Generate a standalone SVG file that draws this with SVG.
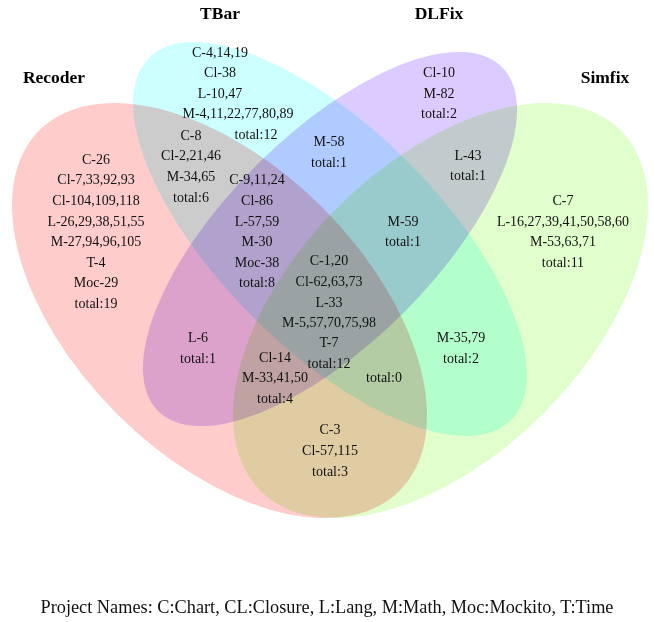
<svg xmlns="http://www.w3.org/2000/svg" width="654" height="622" viewBox="0 0 654 622">
<style>
.set{mix-blend-mode:multiply}
.t{font-family:"Liberation Serif","Times New Roman",serif;font-size:14px;text-anchor:middle;fill:#111}
.title{font-family:"Liberation Serif","Times New Roman",serif;font-size:17.5px;font-weight:bold;text-anchor:middle;fill:#000}
.cap{font-family:"Liberation Serif","Times New Roman",serif;font-size:18px;text-anchor:middle;fill:#111}
</style>
<rect x="0" y="0" width="654" height="622" fill="#fff"/>
<g id="sets">
<g id="set-recoder" class="set"><ellipse cx="219.5" cy="310.5" rx="254.8" ry="145.6" fill="#FFCCCC" transform="rotate(45 219.5 310.5)"/></g>
<g id="set-tbar" class="set"><ellipse cx="330" cy="239" rx="256" ry="109.7" fill="#CCFFFF" transform="rotate(45 330 239)"/></g>
<g id="set-dlfix" class="set"><ellipse cx="330" cy="239" rx="243.2" ry="104.2" fill="#DCCBFF" transform="rotate(-45 330 239)"/></g>
<g id="set-simfix" class="set"><ellipse cx="440.5" cy="310.5" rx="254.8" ry="145.6" fill="#E0FFCC" transform="rotate(-45 440.5 310.5)"/></g>
</g>
<g id="titles">
<text class="title" x="54" y="83">Recoder</text>
<text class="title" x="220" y="19">TBar</text>
<text class="title" x="439" y="19">DLFix</text>
<text class="title" x="605" y="83">Simfix</text>
</g>
<g id="r-tbar" class="t">
<text x="220" y="57">C-4,14,19</text>
<text x="220" y="77">Cl-38</text>
<text x="220" y="98">L-10,47</text>
<text x="238" y="118">M-4,11,22,77,80,89</text>
<text x="256" y="139">total:12</text>
</g>
<g id="r-recoder-tbar" class="t">
<text x="191" y="140">C-8</text>
<text x="191" y="160">Cl-2,21,46</text>
<text x="191" y="181">M-34,65</text>
<text x="191" y="202">total:6</text>
</g>
<g id="r-recoder" class="t">
<text x="96" y="164">C-26</text>
<text x="96" y="184">Cl-7,33,92,93</text>
<text x="96" y="205">Cl-104,109,118</text>
<text x="96" y="226">L-26,29,38,51,55</text>
<text x="96" y="246">M-27,94,96,105</text>
<text x="96" y="267">T-4</text>
<text x="96" y="287">Moc-29</text>
<text x="96" y="308">total:19</text>
</g>
<g id="r-recoder-tbar-dlfix" class="t">
<text x="257" y="184">C-9,11,24</text>
<text x="257" y="205">Cl-86</text>
<text x="257" y="226">L-57,59</text>
<text x="257" y="246">M-30</text>
<text x="257" y="267">Moc-38</text>
<text x="257" y="287">total:8</text>
</g>
<g id="r-tbar-dlfix" class="t">
<text x="329" y="146">M-58</text>
<text x="329" y="167">total:1</text>
</g>
<g id="r-dlfix" class="t">
<text x="439" y="77">Cl-10</text>
<text x="439" y="98">M-82</text>
<text x="439" y="118">total:2</text>
</g>
<g id="r-dlfix-simfix" class="t">
<text x="468" y="160">L-43</text>
<text x="468" y="180">total:1</text>
</g>
<g id="r-simfix" class="t">
<text x="563" y="205">C-7</text>
<text x="563" y="226">L-16,27,39,41,50,58,60</text>
<text x="563" y="246">M-53,63,71</text>
<text x="563" y="267">total:11</text>
</g>
<g id="r-tbar-dlfix-simfix" class="t">
<text x="403" y="226">M-59</text>
<text x="403" y="246">total:1</text>
</g>
<g id="r-all" class="t">
<text x="329" y="265">C-1,20</text>
<text x="329" y="286">Cl-62,63,73</text>
<text x="329" y="307">L-33</text>
<text x="329" y="327">M-5,57,70,75,98</text>
<text x="329" y="347">T-7</text>
<text x="329" y="368">total:12</text>
</g>
<g id="r-recoder-dlfix" class="t">
<text x="198" y="342">L-6</text>
<text x="198" y="363">total:1</text>
</g>
<g id="r-recoder-dlfix-simfix" class="t">
<text x="275" y="362">Cl-14</text>
<text x="275" y="382">M-33,41,50</text>
<text x="275" y="403">total:4</text>
</g>
<g id="r-recoder-tbar-simfix" class="t">
<text x="384" y="382">total:0</text>
</g>
<g id="r-tbar-simfix" class="t">
<text x="461" y="342">M-35,79</text>
<text x="461" y="363">total:2</text>
</g>
<g id="r-recoder-simfix" class="t">
<text x="330" y="434">C-3</text>
<text x="330" y="455">Cl-57,115</text>
<text x="330" y="476">total:3</text>
</g>
<text class="cap" x="327" y="613" textLength="573" lengthAdjust="spacingAndGlyphs">Project Names: C:Chart, CL:Closure, L:Lang, M:Math, Moc:Mockito, T:Time</text>
</svg>
